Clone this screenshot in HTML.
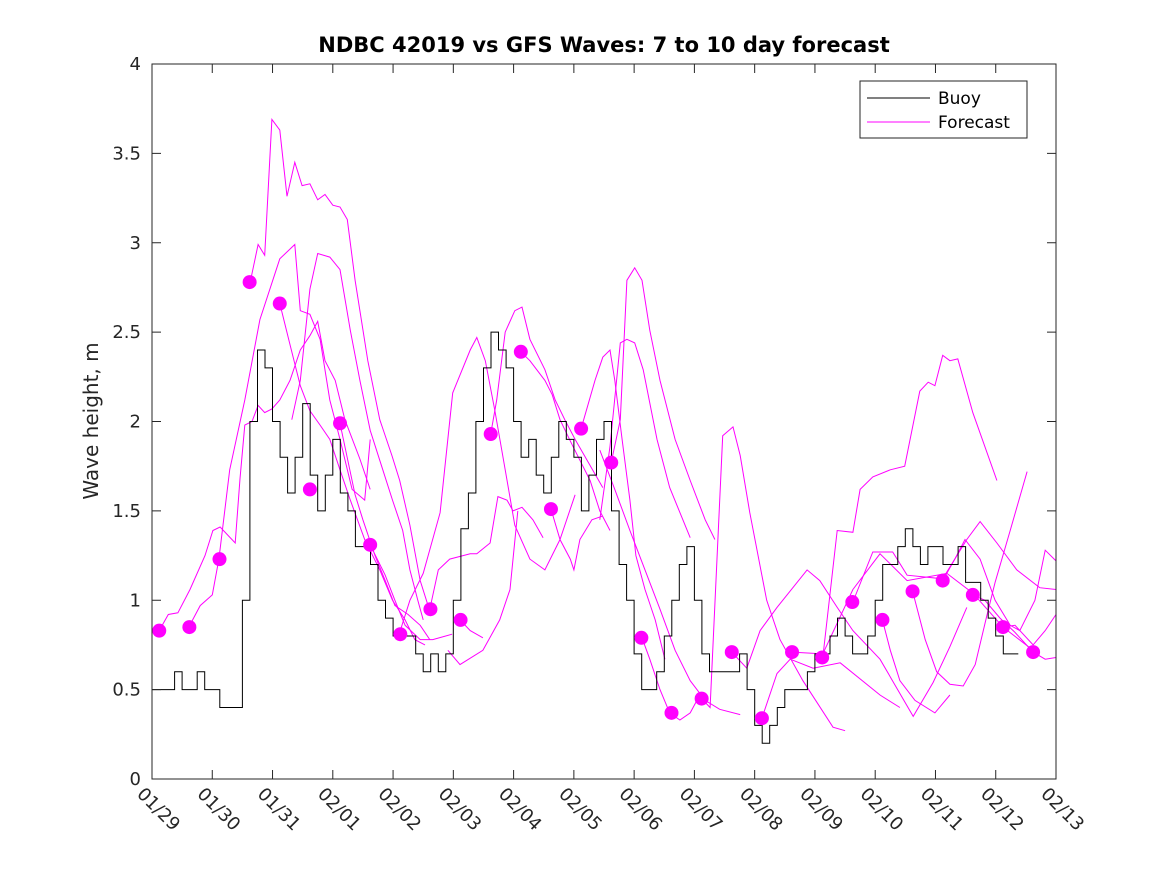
<!DOCTYPE html>
<html><head><meta charset="utf-8"><style>
html,body{margin:0;padding:0;background:#fff;}
svg{display:block;font-family:"DejaVu Sans","Liberation Sans",sans-serif;}
</style></head><body>
<svg id="chart" width="1167" height="875" viewBox="0 0 1167 875" xmlns="http://www.w3.org/2000/svg">
<rect width="1167" height="875" fill="#fff"/>
<text x="604" y="52" text-anchor="middle" font-size="21" font-weight="bold" fill="#000">NDBC 42019 vs GFS Waves: 7 to 10 day forecast</text>
<text transform="translate(98,421) rotate(-90)" text-anchor="middle" font-size="20" fill="#262626">Wave height, m</text>
<g id="grid"></g>
<g id="fc"></g>
<g id="buoy"></g>
<g id="dots"></g>
<rect x="152" y="64" width="904" height="715" fill="none" stroke="#262626" stroke-width="1"/>
<g id="axes"></g>
<g>
<rect x="860" y="81" width="167" height="57" fill="#fff" stroke="#262626" stroke-width="1"/>
<line x1="867" y1="98" x2="930" y2="98" stroke="#000" stroke-width="1"/>
<text x="938" y="104" font-size="17" fill="#000">Buoy</text>
<line x1="867" y1="122" x2="930" y2="122" stroke="#ff00ff" stroke-width="1"/>
<text x="938" y="128" font-size="17" fill="#000">Forecast</text>
</g>
</svg>
<script>
const xTickLabels=["01/29","01/30","01/31","02/01","02/02","02/03","02/04","02/05","02/06","02/07","02/08","02/09","02/10","02/11","02/12","02/13"];
const yTicks=[0,0.5,1,1.5,2,2.5,3,3.5,4];
const yTickLabels=["0","0.5","1","1.5","2","2.5","3","3.5","4"];
const buoyStep=0.125;
const buoyValues=[0.5,0.5,0.5,0.6,0.5,0.5,0.6,0.5,
0.5,0.4,0.4,0.4,1.0,2.0,2.4,2.3,
2.0,1.8,1.6,1.8,2.1,1.7,1.5,1.7,
1.9,1.6,1.5,1.3,1.3,1.2,1.0,0.9,
0.8,0.8,0.8,0.7,0.6,0.7,0.6,0.7,
1.0,1.4,1.6,2.0,2.3,2.5,2.4,2.3,
2.0,1.8,1.9,1.7,1.6,1.8,2.0,1.9,
1.8,1.5,1.7,1.9,2.0,1.5,1.2,1.0,
0.7,0.5,0.5,0.6,0.8,1.0,1.2,1.3,
1.0,0.7,0.6,0.6,0.6,0.6,0.7,0.5,
0.3,0.2,0.3,0.4,0.5,0.5,0.5,0.6,
0.7,0.7,0.8,0.9,0.8,0.7,0.7,0.8,
1.0,1.2,1.2,1.3,1.4,1.3,1.2,1.3,
1.3,1.2,1.2,1.3,1.1,1.1,1.0,0.9,
0.8,0.7,0.7];
const dotDays=[0.12,0.62,1.12,1.62,2.12,2.62,3.12,3.62,4.12,4.62,5.12,5.62,6.12,6.62,7.12,7.62,8.12,8.62,9.12,9.62,10.12,10.62,11.12,11.62,12.12,12.62,13.12,13.62,14.12,14.62];
const dotValues=[0.83,0.85,1.23,2.78,2.66,1.62,1.99,1.31,0.81,0.95,0.89,1.93,2.39,1.51,1.96,1.77,0.79,0.37,0.45,0.71,0.34,0.71,0.68,0.99,0.89,1.05,1.11,1.03,0.85,0.71];
const fc1Days=[0.12,0.27,0.43,0.63,0.88,1.01,1.13,1.38,1.46,1.54,1.66,1.76,1.87,1.99,2.12,2.29,2.46,2.62,2.75,2.87,3.04,3.2,3.45,3.62];
const fc1Vals=[0.83,0.92,0.93,1.06,1.25,1.39,1.41,1.32,1.68,1.98,2.0,2.09,2.05,2.07,2.12,2.23,2.4,2.48,2.56,2.34,2.23,2.01,1.79,1.62];
const fc2Days=[0.61,0.8,1.0,1.11,1.29,1.54,1.79,2.12,2.37,2.46,2.62,2.79,2.95,3.12,3.32,3.53,3.62];
const fc2Vals=[0.85,0.97,1.03,1.23,1.73,2.12,2.57,2.91,2.99,2.62,2.6,2.46,2.12,1.9,1.62,1.56,1.9];
const fc3Days=[1.63,1.76,1.87,1.99,2.12,2.24,2.37,2.49,2.62,2.75,2.87,3.0,3.12,3.24,3.37,3.58,3.78,3.98,4.11,4.28,4.45,4.6];
const fc3Vals=[2.78,2.99,2.93,3.69,3.63,3.26,3.45,3.32,3.33,3.24,3.27,3.21,3.2,3.13,2.79,2.34,2.01,1.81,1.67,1.42,1.11,0.95];
const fc4Days=[2.12,2.29,2.46,2.62,2.79,2.95,3.12,3.29,3.53,3.78,3.99,4.2,4.36,4.53];
const fc4Vals=[2.66,2.43,2.2,2.06,1.98,1.9,1.73,1.56,1.34,1.17,1.0,0.89,0.78,0.75];
const fc5Days=[2.32,2.46,2.62,2.75,2.95,3.12,3.29,3.45,3.62,3.83,3.99,4.16,4.28,4.41,4.5];
const fc5Vals=[2.01,2.23,2.74,2.94,2.92,2.85,2.51,2.23,1.95,1.73,1.56,1.39,1.17,1.0,0.89];
const fc6Days=[3.12,3.25,3.37,3.5,3.7,3.87,4.03,4.25,4.45,4.61];
const fc6Vals=[1.99,1.78,1.59,1.45,1.25,1.11,0.97,0.92,0.86,0.78];
const fc7Days=[3.62,3.87,4.03,4.2,4.45,4.66,4.98];
const fc7Vals=[1.31,1.14,1.0,0.86,0.78,0.78,0.81];
const fc8Days=[4.61,4.75,4.94,5.28,5.39,5.61,5.74,5.89,5.99,6.14,6.32,6.49];
const fc8Vals=[0.95,1.17,1.23,1.26,1.26,1.32,1.58,1.56,1.5,1.52,1.45,1.35];
const fc9Days=[5.11,5.28,5.49];
const fc9Vals=[0.89,0.83,0.79];
const fc10Days=[4.11,4.28,4.5,4.78,4.99,5.28,5.39,5.53,5.69,5.86,6.02,6.27,6.52,6.77,7.02];
const fc10Vals=[0.82,1.0,1.15,1.49,2.16,2.4,2.47,2.34,2.06,1.73,1.42,1.23,1.17,1.34,1.59];
const fc11Days=[4.91,5.11,5.49,5.77,5.94,6.07];
const fc11Vals=[0.72,0.64,0.72,0.89,1.06,1.5];
const fc12Days=[5.62,5.72,5.86,6.02,6.14,6.27,6.52,6.69,6.85,7.02,7.48];
const fc12Vals=[1.93,2.12,2.5,2.62,2.64,2.46,2.29,2.12,2.01,1.9,1.63];
const fc13Days=[6.12,6.27,6.52,6.64,6.77,6.97,7.27,7.43,7.6];
const fc13Vals=[2.39,2.34,2.23,2.15,2.01,1.87,1.67,1.5,1.39];
const fc14Days=[6.62,6.77,6.94,7.0,7.1,7.3,7.47];
const fc14Vals=[1.51,1.34,1.23,1.17,1.34,1.45,1.47];
const fc15Days=[7.12,7.35,7.48,7.6,7.68,7.8,7.93,8.03,8.18,8.35,8.51];
const fc15Vals=[1.96,2.23,2.36,2.4,2.23,1.9,1.56,1.25,1.06,0.89,0.67];
const fc16Days=[7.43,7.6,7.77,7.88,8.01,8.15,8.38,8.59,8.93];
const fc16Vals=[1.45,1.86,2.44,2.46,2.44,2.29,1.9,1.63,1.35];
const fc17Days=[7.62,7.77,7.88,8.01,8.13,8.26,8.43,8.68,8.93,9.18,9.34];
const fc17Vals=[1.77,2.01,2.79,2.86,2.79,2.51,2.23,1.9,1.67,1.45,1.34];
const fc18Days=[8.13,8.26,8.43,8.59,8.76,8.93,9.09];
const fc18Vals=[0.79,0.67,0.5,0.37,0.33,0.37,0.47];
const fc19Days=[7.43,7.68,7.93,8.18,8.43,8.68,8.93,9.18,9.42,9.76];
const fc19Vals=[1.84,1.62,1.39,1.17,0.95,0.72,0.55,0.44,0.39,0.36];
const fc20Days=[9.12,9.26,9.47,9.64,9.76,9.92,10.2,10.42,10.8,11.3,11.5];
const fc20Vals=[0.45,0.4,1.92,1.97,1.81,1.49,1.0,0.78,0.55,0.29,0.27];
const fc21Days=[9.62,9.87,10.09,10.37,10.87,11.08,11.37,11.63,12.08,12.63,12.96,13.24,13.52];
const fc21Vals=[0.71,0.62,0.83,0.96,1.17,1.11,0.96,0.83,0.67,0.35,0.54,0.74,0.96];
const fc22Days=[10.12,10.37,10.59,10.97,11.42,12.08,12.41];
const fc22Vals=[0.34,0.59,0.67,0.62,0.65,0.47,0.4];
const fc23Days=[10.62,11.13,11.63,12.08,12.53,13.19,13.62,14.12,14.62];
const fc23Vals=[0.71,0.7,1.06,1.26,1.11,1.15,1.04,0.85,0.72];
const fc24Days=[11.13,11.37,11.63,11.75,11.96,12.25,12.49,12.74,12.88,12.99,13.12,13.24,13.37,13.62,14.02];
const fc24Vals=[0.68,1.39,1.38,1.62,1.69,1.73,1.75,2.17,2.22,2.2,2.37,2.34,2.35,2.05,1.67];
const fc25Days=[11.63,11.96,12.29,12.53,13.12,13.52,13.74,14.02,14.35,14.73,15.0];
const fc25Vals=[0.99,1.27,1.27,1.14,1.12,1.34,1.44,1.32,1.17,1.07,1.06];
const fc26Days=[12.12,12.25,12.41,12.66,12.99,13.24];
const fc26Vals=[0.89,0.72,0.55,0.44,0.37,0.47];
const fc27Days=[12.62,12.83,13.02,13.24,13.46,13.66,13.85,13.99,14.24,14.52];
const fc27Vals=[1.05,0.78,0.6,0.53,0.52,0.64,0.91,1.1,1.39,1.72];
const fc28Days=[13.12,13.32,13.49,13.74,13.99,14.24,14.4,14.65,14.82,15.0];
const fc28Vals=[1.11,1.23,1.34,1.23,1.0,0.86,0.83,1.0,1.28,1.22];
const fc29Days=[13.62,13.82,14.07,14.32,14.62,14.82,15.0];
const fc29Vals=[1.03,1.0,0.9,0.82,0.71,0.67,0.68];
const fc30Days=[14.12,14.32,14.62,14.82,15.0];
const fc30Vals=[0.85,0.86,0.75,0.83,0.92];

const NS="http://www.w3.org/2000/svg";
const X0=152,X1=1056,Y0=779,Y1=64,DMAX=15,VMAX=4;
function xs(d){return X0+(X1-X0)*d/DMAX;}
function ys(v){return Y0-(Y0-Y1)*v/VMAX;}
function mk(tag,attrs,parent){const e=document.createElementNS(NS,tag);for(const k in attrs)e.setAttribute(k,attrs[k]);parent.appendChild(e);return e;}
const axes=document.getElementById('axes');
xTickLabels.forEach((lab,i)=>{
  const x=xs(i);
  const t1=mk('line',{x1:x,y1:Y0,x2:x,y2:Y0-9,stroke:'#262626'},axes);
  
  
  const t2=mk('line',{x1:x,y1:Y1,x2:x,y2:Y1+9,stroke:'#262626'},axes);
  
  
  const tx=mk('text',{x:0,y:0,transform:'translate('+(x-16)+','+(Y0+16)+') rotate(45)','font-size':18,fill:'#262626'},axes);
  tx.textContent=lab;
  
  
});
yTicks.forEach((v,i)=>{
  const y=ys(v);
  const t1=mk('line',{x1:X0,y1:y,x2:X0+9,y2:y,stroke:'#262626'},axes);
  
  
  const t2=mk('line',{x1:X1,y1:y,x2:X1-9,y2:y,stroke:'#262626'},axes);
  
  
  const tx=mk('text',{x:141,y:y+6,'text-anchor':'end','font-size':18,fill:'#262626'},axes);
  tx.textContent=yTickLabels[i];
  
  
});
const fcG=document.getElementById('fc');
const fcSeries=[[fc1Days,fc1Vals],[fc2Days,fc2Vals],[fc3Days,fc3Vals],[fc4Days,fc4Vals],[fc5Days,fc5Vals],[fc6Days,fc6Vals],[fc7Days,fc7Vals],[fc8Days,fc8Vals],[fc9Days,fc9Vals],[fc10Days,fc10Vals],[fc11Days,fc11Vals],[fc12Days,fc12Vals],[fc13Days,fc13Vals],[fc14Days,fc14Vals],[fc15Days,fc15Vals],[fc16Days,fc16Vals],[fc17Days,fc17Vals],[fc18Days,fc18Vals],[fc19Days,fc19Vals],[fc20Days,fc20Vals],[fc21Days,fc21Vals],[fc22Days,fc22Vals],[fc23Days,fc23Vals],[fc24Days,fc24Vals],[fc25Days,fc25Vals],[fc26Days,fc26Vals],[fc27Days,fc27Vals],[fc28Days,fc28Vals],[fc29Days,fc29Vals],[fc30Days,fc30Vals]];
fcSeries.forEach(s=>{
  const pts=s[0].map((d,i)=>xs(d).toFixed(1)+','+ys(s[1][i]).toFixed(1)).join(' ');
  const p=mk('polyline',{points:pts,fill:'none',stroke:'#ff00ff','stroke-width':1},fcG);
  
  
});
let bp=[];
buoyValues.forEach((v,i)=>{
  const x0=xs(i*buoyStep),x1=xs((i+1)*buoyStep);
  bp.push(x0.toFixed(1)+','+ys(v).toFixed(1));
  bp.push(x1.toFixed(1)+','+ys(v).toFixed(1));
});
const bl=mk('polyline',{points:bp.join(' '),fill:'none',stroke:'#000','stroke-width':1},document.getElementById('buoy'));


const dG=document.getElementById('dots');
dotDays.forEach((d,i)=>{
  const c=mk('circle',{cx:xs(d),cy:ys(dotValues[i]),r:7,fill:'#ff00ff'},dG);
  
  
});
</script>
</body></html>
